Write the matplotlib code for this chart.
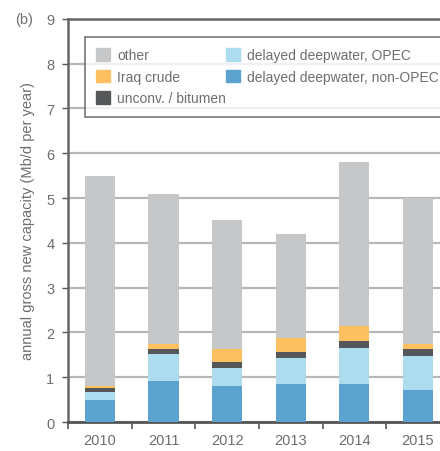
import numpy as np
import matplotlib.pyplot as plt
from matplotlib.patches import Patch

years = ['2010', '2011', '2012', '2013', '2014', '2015']
non_opec = [0.50, 0.91, 0.81, 0.85, 0.85, 0.72]
opec = [0.17, 0.62, 0.40, 0.57, 0.81, 0.76]
unconv = [0.09, 0.11, 0.14, 0.15, 0.16, 0.16]
iraq = [0.05, 0.10, 0.27, 0.30, 0.33, 0.11]
totals = [5.5, 5.1, 4.5, 4.2, 5.8, 5.0]

c_other = '#c6c7c9'
c_iraq = '#fdc162'
c_unconv = '#555759'
c_opec = '#aedcef'
c_nonopec = '#5ba2cf'
txt = '#6d6e70'

plt.rcParams['font.family'] = ['Liberation Sans', 'DejaVu Sans']

fig = plt.figure(figsize=(4.4, 4.52), dpi=100)
ax = fig.add_axes([0.155, 0.064, 0.86, 0.892])

x = np.arange(len(years))
w = 0.475
b0 = np.zeros(len(years))
other = [t - a - b - c - d for t, a, b, c, d in zip(totals, non_opec, opec, unconv, iraq)]
for vals, col in [(non_opec, c_nonopec), (opec, c_opec), (unconv, c_unconv),
                  (iraq, c_iraq), (other, c_other)]:
    ax.bar(x, vals, w, bottom=b0, color=col, zorder=3)
    b0 = b0 + np.array(vals)

ax.set_ylim(0, 9)
ax.set_xlim(-0.5, 5.45)
ax.set_yticks(range(10))
ax.set_xticks(x - 0.5, minor=False)
ax.set_xticklabels([])
ax.set_xticks(x, minor=True)
ax.set_xticklabels(years, minor=True)
ax.tick_params(axis='x', which='minor', length=0, pad=8, labelsize=10.5, labelcolor=txt)
ax.tick_params(axis='x', which='major', length=5, width=1.2, color='#555')
ax.tick_params(axis='y', length=4, width=1, color='#555', labelsize=10.5, labelcolor=txt, pad=6)
ax.yaxis.grid(True, color='#b6b7ba', linewidth=1.6, zorder=0)

for s in ['left', 'top']:
    ax.spines[s].set_color('#666')
    ax.spines[s].set_linewidth(1.8)
ax.spines['bottom'].set_color('#555')
ax.spines['bottom'].set_linewidth(2)
ax.spines['right'].set_visible(False)

ax.set_ylabel('annual gross new capacity (Mb/d per year)', color=txt, fontsize=10.5, labelpad=8)
fig.text(0.035, 0.955, '(b)', color=txt, fontsize=10.5, va='center')

handles = [Patch(color=c_other, label='other'),
           Patch(color=c_iraq, label='Iraq crude'),
           Patch(color=c_unconv, label='unconv. / bitumen'),
           Patch(color=c_opec, label='delayed deepwater, OPEC'),
           Patch(color=c_nonopec, label='delayed deepwater, non-OPEC')]
leg = ax.legend(handles=handles, ncol=2, loc='upper left', bbox_to_anchor=(0.045, 0.955),
                borderaxespad=0, fontsize=10, frameon=True, fancybox=False,
                handlelength=1.0, handleheight=1.0, handletextpad=0.5, columnspacing=0.0,
                labelspacing=0.55, borderpad=0.8, labelcolor=txt)
leg.get_frame().set_edgecolor('#555')
leg.get_frame().set_linewidth(1.2)
leg.set_zorder(5)

fig.savefig('out.png', dpi=100)
